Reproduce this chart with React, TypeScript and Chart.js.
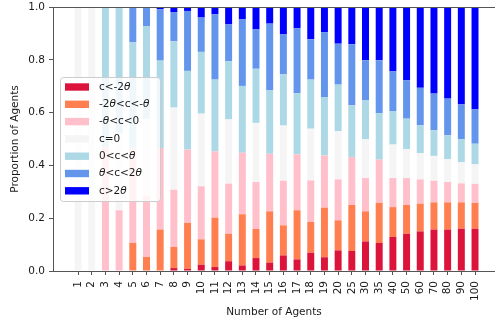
import React, { useEffect, useRef } from 'react';
import { Chart, registerables } from 'chart.js';

Chart.register(...registerables);

const categories = ['1', '2', '3', '4', '5', '6', '7', '8', '9', '10', '11', '12', '13', '14', '15', '16', '17', '18', '19', '20', '25', '30', '35', '40', '50', '60', '70', '80', '90', '100'];

const seriesLabels = ['c<-2θ', '-2θ<c<-θ', '-θ<c<0', 'c=0', '0<c<θ', 'θ<c<2θ', 'c>2θ'];
const seriesColors = ['#DC143C', '#FF7F50', '#FFC0CB', '#F5F5F5', '#ADD8E6', '#6495ED', '#0000FF'];

const belowNeg2Theta = [0, 0, 0, 0, 0, 0, 0, 0.011, 0.008, 0.024, 0.015, 0.037, 0.021, 0.049, 0.032, 0.059, 0.044, 0.069, 0.052, 0.078, 0.076, 0.112, 0.106, 0.129, 0.141, 0.15, 0.157, 0.157, 0.16, 0.16];
const neg2ThetaToNegTheta = [0, 0, 0, 0, 0.106, 0.053, 0.157, 0.08, 0.174, 0.096, 0.187, 0.104, 0.194, 0.11, 0.194, 0.114, 0.186, 0.117, 0.188, 0.114, 0.174, 0.114, 0.152, 0.113, 0.109, 0.105, 0.103, 0.103, 0.1, 0.098];
const negThetaToZero = [0, 0, 0.47, 0.23, 0.36, 0.231, 0.309, 0.217, 0.278, 0.201, 0.251, 0.19, 0.233, 0.178, 0.218, 0.169, 0.212, 0.157, 0.198, 0.155, 0.182, 0.126, 0.164, 0.11, 0.102, 0.092, 0.082, 0.077, 0.072, 0.072];
const exactlyZero = [1, 1, 0, 0.29, 0, 0.292, 0, 0.311, 0, 0.275, 0, 0.243, 0, 0.224, 0, 0.209, 0, 0.196, 0, 0.182, 0, 0.147, 0, 0.127, 0.109, 0.1, 0.094, 0.087, 0.08, 0.074];
const zeroToTheta = [0, 0, 0.53, 0.48, 0.4, 0.352, 0.331, 0.251, 0.298, 0.234, 0.272, 0.22, 0.253, 0.205, 0.24, 0.194, 0.231, 0.186, 0.221, 0.177, 0.196, 0.147, 0.176, 0.127, 0.116, 0.105, 0.097, 0.09, 0.087, 0.078];
const thetaTo2Theta = [0, 0, 0, 0, 0.134, 0.072, 0.195, 0.111, 0.227, 0.13, 0.247, 0.14, 0.252, 0.149, 0.253, 0.151, 0.246, 0.153, 0.246, 0.155, 0.231, 0.152, 0.2, 0.15, 0.145, 0.142, 0.139, 0.139, 0.132, 0.13];
const above2Theta = [0, 0, 0, 0, 0, 0, 0.008, 0.019, 0.015, 0.04, 0.028, 0.066, 0.047, 0.085, 0.063, 0.104, 0.081, 0.122, 0.095, 0.139, 0.141, 0.202, 0.202, 0.244, 0.278, 0.306, 0.328, 0.347, 0.369, 0.388];

const seriesValues = [belowNeg2Theta, neg2ThetaToNegTheta, negThetaToZero, exactlyZero, zeroToTheta, thetaTo2Theta, above2Theta];

const yTicks = [0, 0.2, 0.4, 0.6, 0.8, 1.0];

const FONT = 'DejaVu Sans';
const FS = 10.5;
const TEXT = '#1a1a1a';
const AXIS = '#555555';

const legendPlugin = {
  id: 'insideLegend',
  afterDatasetsDraw(chart: any) {
    const ctx = chart.ctx as CanvasRenderingContext2D;
    const x0 = 60.5, y0 = 77.5, w = 100, h = 124, r = 3;
    ctx.save();
    ctx.beginPath();
    ctx.moveTo(x0 + r, y0);
    ctx.lineTo(x0 + w - r, y0);
    ctx.arcTo(x0 + w, y0, x0 + w, y0 + r, r);
    ctx.lineTo(x0 + w, y0 + h - r);
    ctx.arcTo(x0 + w, y0 + h, x0 + w - r, y0 + h, r);
    ctx.lineTo(x0 + r, y0 + h);
    ctx.arcTo(x0, y0 + h, x0, y0 + h - r, r);
    ctx.lineTo(x0, y0 + r);
    ctx.arcTo(x0, y0, x0 + r, y0, r);
    ctx.closePath();
    ctx.fillStyle = 'rgba(255,255,255,0.8)';
    ctx.fill();
    ctx.strokeStyle = '#cccccc';
    ctx.lineWidth = 1;
    ctx.stroke();
    chart.data.datasets.forEach((ds: any, i: number) => {
      const cy = 87 + i * 17.3;
      ctx.fillStyle = ds.backgroundColor;
      ctx.fillRect(65, cy - 3.7, 24, 7.4);
      let x = 99;
      ctx.fillStyle = TEXT;
      ctx.textBaseline = 'middle';
      ctx.textAlign = 'left';
      const parts = String(ds.label).split(/(θ)/);
      parts.forEach((p: string) => {
        if (!p) return;
        ctx.font = p === 'θ' ? `italic ${FS}px ${FONT}` : `${FS}px ${FONT}`;
        ctx.fillText(p, x, cy);
        x += ctx.measureText(p).width;
      });
    });
    ctx.restore();
  },
};

const topSpinePlugin = {
  id: 'topSpine',
  afterDraw(chart: any) {
    const { ctx, chartArea } = chart;
    ctx.save();
    ctx.strokeStyle = AXIS;
    ctx.lineWidth = 1;
    ctx.beginPath();
    const y = Math.round(chartArea.top) + 0.5;
    ctx.moveTo(chartArea.left, y);
    ctx.lineTo(chartArea.right, y);
    ctx.stroke();
    ctx.restore();
  },
};

export default function App() {
  const ref = useRef<HTMLCanvasElement | null>(null);
  useEffect(() => {
    if (!ref.current) return;
    const chart = new Chart(ref.current, {
      type: 'bar',
      data: {
        datasets: seriesLabels.map((label, s) => ({
          label,
          data: seriesValues[s].map((v, i) => ({ x: i, y: v })),
          backgroundColor: seriesColors[s],
          borderWidth: 0,
          barPercentage: 0.51,
          categoryPercentage: 1.0,
        })),
      },
      options: {
        animation: false,
        responsive: false,
        devicePixelRatio: 1,
        layout: { padding: { top: 7, left: 0, right: 0, bottom: 0 } },
        plugins: {
          legend: { display: false },
          tooltip: { enabled: false },
        },
        scales: {
          x: {
            type: 'linear',
            stacked: true,
            offset: false,
            min: -1.83,
            max: 30.46,
            afterBuildTicks: (axis: any) => {
              axis.ticks = categories.map((_, i) => ({ value: i }));
            },
            afterFit: (axis: any) => {
              axis.height = 56;
              axis.paddingLeft = 0;
              axis.paddingRight = 0;
            },
            ticks: {
              autoSkip: false,
              minRotation: 90,
              maxRotation: 90,
              padding: 6,
              color: TEXT,
              font: { family: FONT, size: FS },
              callback: (v: any) => categories[Math.round(Number(v))] ?? '',
            },
            grid: { display: true, offset: false, drawOnChartArea: false, drawTicks: true, tickLength: 4, color: AXIS },
            border: { display: true, color: AXIS, width: 1 },
            title: {
              display: true,
              text: 'Number of Agents',
              color: TEXT,
              font: { family: FONT, size: FS },
              padding: { top: 0, bottom: 8.5 },
            },
          },
          y: {
            stacked: true,
            min: 0,
            max: 1,
            afterBuildTicks: (axis: any) => {
              axis.ticks = yTicks.map((v) => ({ value: v }));
            },
            afterFit: (axis: any) => {
              axis.width = 53;
              axis.paddingTop = 0;
              axis.paddingBottom = 0;
            },
            ticks: {
              padding: 4,
              color: TEXT,
              font: { family: FONT, size: FS },
              callback: (v: any) => Number(v).toFixed(1),
            },
            grid: { display: true, drawOnChartArea: false, drawTicks: true, tickLength: 4, color: AXIS },
            border: { display: true, color: AXIS, width: 1 },
            title: {
              display: true,
              text: 'Proportion of Agents',
              color: TEXT,
              font: { family: FONT, size: FS },
              padding: { top: 9, bottom: 0 },
            },
          },
        },
      },
      plugins: [legendPlugin, topSpinePlugin],
    } as any);
    return () => chart.destroy();
  }, []);
  return (
    <div style={{ position: 'fixed', left: 0, top: 0, width: 495, height: 327, background: '#fff' }}>
      <canvas ref={ref} width={495} height={327} style={{ width: 495, height: 327, display: 'block' }} />
    </div>
  );
}
